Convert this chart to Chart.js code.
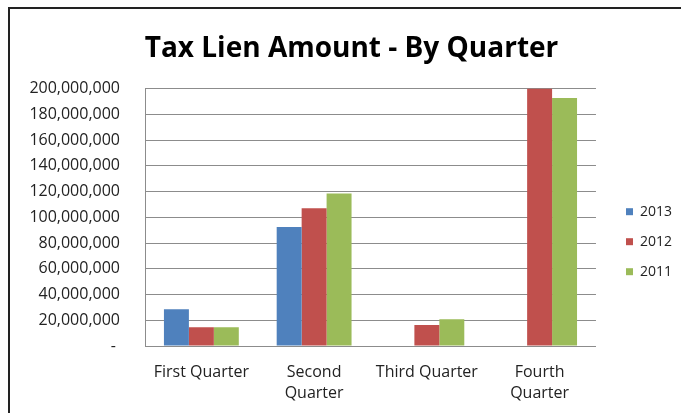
<!DOCTYPE html>
<html>
<head>
<meta charset="utf-8">
<script src="https://cdn.jsdelivr.net/npm/chart.js@4"></script>
<style>
    body { margin: 0; background: #fff; }
    #frame { position: absolute; left: 8px; top: 7px; width: 700px; height: 420px; border-left: 2px solid #222; border-top: 2px solid #222; }
    #wrap { position: absolute; left: 0; top: 0; width: 681px; height: 413px; }
</style>
</head>
<body>
<div id="frame"></div>
<div id="wrap"><canvas id="taxLienChart" width="681" height="413"></canvas></div>
<script>
const quarterLabels = ['First Quarter', ['Second', 'Quarter'], 'Third Quarter', ['Fourth', 'Quarter']];
const yearLabels = ['2013', '2012', '2011'];
const amounts2013 = [28500000, 92400000, null, null];
const amounts2012 = [14500000, 107000000, 16300000, 200000000];
const amounts2011 = [14500000, 118500000, 20700000, 192700000];
const yearColors = ['#4F81BD', '#C0504D', '#9BBB59'];

const fontFamily = '"Open Sans", sans-serif';

new Chart(document.getElementById('taxLienChart').getContext('2d'), {
    type: 'bar',
    data: {
        labels: quarterLabels,
        datasets: [amounts2013, amounts2012, amounts2011].map((values, i) => ({
            label: yearLabels[i],
            data: values,
            backgroundColor: yearColors[i],
            categoryPercentage: 0.664,
            barPercentage: 1.0
        }))
    },
    options: {
        responsive: false,
        animation: false,
        layout: {
            padding: { left: 21, right: -1, top: 0, bottom: 11 }
        },
        plugins: {
            title: {
                display: true,
                text: 'Tax Lien Amount - By Quarter',
                color: '#000',
                font: { family: fontFamily, size: 28, weight: 'bold' },
                padding: { top: 32, bottom: 23 }
            },
            legend: {
                position: 'right',
                // empty title only pushes the items down
                title: { display: true, text: '', font: { size: 12 }, padding: { top: 67, bottom: 0 } },
                labels: {
                    boxWidth: 7,
                    boxHeight: 7,
                    padding: 16,
                    color: '#222',
                    font: { family: fontFamily, size: 14 }
                }
            },
            tooltip: { enabled: false }
        },
        scales: {
            x: {
                afterFit: scale => { scale.height = 56; },
                grid: { display: false },
                border: { display: true, color: '#8c8c8c' },
                ticks: {
                    color: '#222',
                    padding: 8,
                    maxRotation: 0,
                    font: { family: fontFamily, size: 16, lineHeight: 1.32 }
                }
            },
            y: {
                min: 0,
                max: 200000000,
                afterFit: scale => { scale.width = 124; },
                grid: { color: '#8c8c8c', drawTicks: false },
                border: { display: true, color: '#8c8c8c' },
                ticks: {
                    stepSize: 20000000,
                    padding: 25,
                    color: '#222',
                    font: { family: fontFamily, size: 16 },
                    callback: v => v === 0 ? '- ' : v.toLocaleString('en-US')
                }
            },
            gap: {
                position: 'right',
                display: true,
                afterFit: scale => { scale.width = 14; },
                grid: { display: false },
                border: { display: false },
                ticks: { display: false }
            }
        }
    }
});
</script>
</body>
</html>
